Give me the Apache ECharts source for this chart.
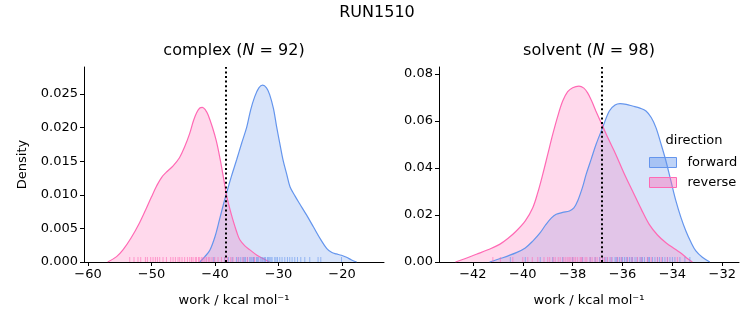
<!DOCTYPE html>
<html><head><meta charset="utf-8">
<script src="https://cdn.jsdelivr.net/npm/echarts@6/dist/echarts.min.js"></script>
<style>html,body{margin:0;padding:0;background:#fff}#c{width:753px;height:325px}</style>
</head><body><div id="c"></div>
<script>
// ---------- data ----------
const suptitle = 'RUN1510';
const panelNames = ['complex', 'solvent'];
const panelN = [92, 98];
const complexXTicks = [-60, -50, -40, -30, -20];
const complexYTicks = [0, 0.005, 0.010, 0.015, 0.020, 0.025];
const solventXTicks = [-42, -40, -38, -36, -34, -32];
const solventYTicks = [0, 0.02, 0.04, 0.06, 0.08];
const complexRef = -38.36;
const solventRef = -36.85;

// KDE curves: complex / reverse
const cRevX = [-56.9,-55.5,-54.5,-53.2,-51.9,-50.9,-50.0,-49.2,-48.4,-47.5,-46.6,-45.6,-44.8,-44.0,-43.4,-42.9,-42.4,-42.0,-41.5,-41.1,-40.4,-39.8,-39.2,-38.7,-38.2,-37.7,-37.2,-36.6,-36.1,-35.3,-34.5,-33.4,-32.4,-31.4];
const cRevY = [0,0.0008,0.0018,0.0036,0.0058,0.0078,0.0097,0.0113,0.0126,0.0135,0.0143,0.0155,0.0171,0.0191,0.0210,0.0222,0.0229,0.0230,0.0226,0.0219,0.0200,0.0180,0.0153,0.0127,0.0100,0.0080,0.0063,0.0045,0.0033,0.0024,0.0018,0.0010,0.0005,0];
// complex / forward
const cFwdX = [-42.4,-41.6,-40.8,-40.0,-39.3,-38.7,-38.2,-37.4,-36.6,-35.8,-35.0,-34.4,-33.75,-33.1,-32.5,-31.9,-31.4,-30.8,-30.3,-29.8,-29.3,-28.7,-28.2,-27.4,-26.7,-25.6,-24.5,-23.4,-22.4,-21.6,-20.9,-20.1,-19.3,-18.5,-17.7];
const cFwdY = [0,0.0008,0.0018,0.0038,0.0063,0.0085,0.0102,0.0128,0.0152,0.0177,0.0201,0.0226,0.0246,0.0259,0.0263,0.0259,0.0249,0.0228,0.0201,0.0176,0.0152,0.0130,0.0112,0.0098,0.0087,0.0070,0.0052,0.0034,0.0020,0.0014,0.0012,0.0010,0.0007,0.0003,0];
// solvent / reverse
const sRevX = [-42.7,-42.3,-41.86,-41.4,-40.93,-40.6,-40.26,-39.9,-39.6,-39.4,-39.2,-39.0,-38.8,-38.6,-38.4,-38.2,-38.0,-37.75,-37.55,-37.4,-37.25,-37.07,-36.8,-36.55,-36.27,-35.95,-35.6,-35.25,-34.93,-34.6,-34.26,-33.9,-33.6,-33.4,-33.2];
const sRevY = [0,0.0015,0.0033,0.0052,0.0075,0.0100,0.0132,0.0175,0.0231,0.0295,0.0373,0.0458,0.0543,0.0620,0.0685,0.0725,0.0742,0.0749,0.0740,0.0720,0.0688,0.0643,0.0579,0.0520,0.0458,0.0380,0.0302,0.0225,0.0160,0.0115,0.0082,0.0055,0.0033,0.0015,0];
// solvent / forward
const sFwdX = [-41.33,-40.8,-40.26,-39.9,-39.6,-39.3,-39.07,-38.85,-38.66,-38.4,-38.13,-37.95,-37.8,-37.6,-37.46,-37.25,-37.06,-36.8,-36.53,-36.3,-36.1,-35.85,-35.6,-35.3,-35.06,-34.85,-34.66,-34.45,-34.26,-34.06,-33.86,-33.66,-33.46,-33.26,-33.06,-32.8,-32.5];
const sFwdY = [0,0.0018,0.0040,0.0060,0.0089,0.0125,0.0160,0.0188,0.0203,0.0211,0.0217,0.0230,0.0260,0.0320,0.0373,0.0440,0.0501,0.0572,0.0643,0.0668,0.0674,0.0671,0.0664,0.0655,0.0643,0.0615,0.0572,0.0500,0.0430,0.0345,0.0260,0.0190,0.0132,0.0085,0.0047,0.0020,0];

// rug samples
const cRevRug = [-53.43,-52.76,-52.13,-51.70,-50.96,-50.65,-50.13,-49.76,-49.39,-49.07,-48.71,-48.19,-47.65,-46.98,-46.61,-46.24,-45.83,-45.56,-45.20,-44.78,-44.35,-43.98,-43.70,-43.46,-43.10,-42.93,-42.60,-42.41,-42.10,-41.89,-41.60,-41.35,-41.05,-40.83,-40.47,-40.05,-39.53,-38.99,-38.47,-38.05,-37.53,-37.17,-36.40,-35.60,-34.90,-33.80];
const cFwdRug = [-40.20,-38.50,-37.90,-37.30,-36.63,-36.27,-35.95,-35.59,-35.21,-34.90,-34.54,-34.17,-33.86,-33.48,-33.30,-33.12,-32.80,-32.60,-32.44,-32.20,-32.06,-31.75,-31.60,-31.39,-31.02,-30.60,-30.17,-29.81,-29.45,-29.02,-28.60,-28.24,-27.87,-27.45,-27.02,-26.50,-25.87,-25.09,-23.78,-23.35,-20.09,-33.95,-34.35,-31.20,-30.40,-35.40];
const sRevRug = [-41.2,-40.9,-40.4,-40.0,-39.8,-39.62,-39.4,-39.15,-39.0,-38.92,-38.78,-38.7,-38.58,-38.5,-38.38,-38.3,-38.22,-38.1,-38.02,-37.95,-37.88,-37.8,-37.7,-37.62,-37.5,-37.43,-37.3,-37.22,-37.1,-37.02,-36.9,-36.8,-36.72,-36.6,-36.45,-36.2,-36.05,-35.8,-35.62,-35.4,-35.25,-35.0,-34.85,-34.6,-34.45,-34.2,-37.66,-38.15,-33.8];
const sFwdRug = [-40.5,-39.9,-39.3,-38.8,-38.4,-38.0,-37.6,-37.3,-37.1,-36.92,-36.8,-36.7,-36.62,-36.5,-36.42,-36.3,-36.2,-36.12,-36.0,-35.92,-35.8,-35.72,-35.6,-35.5,-35.42,-35.3,-35.2,-35.12,-35.0,-34.92,-34.8,-34.7,-34.6,-34.52,-34.4,-34.3,-34.2,-34.1,-34.0,-33.9,-33.7,-33.5,-36.25,-36.05,-35.85,-35.25,-34.95,-35.65,-33.3];

// ---------- chart ----------
const FONT = 'DejaVu Sans';
const BLUE = '#6495ED', PINK = '#FF69B4';
const zip = (xs, ys) => xs.map((x, i) => [x, ys[i]]);
const rug = xs => xs.map(x => [x, 0]);
const minus = s => String(s).replace('-', '\u2212');

function xAxis(idx, min, max, ticks) {
  return {
    type: 'value', gridIndex: idx, min, max,
    name: 'work / kcal mol\u207B\u00B9', nameLocation: 'middle', nameGap: 32,
    nameTextStyle: {fontFamily: FONT, fontSize: 13, color: '#000'},
    axisLine: {show: true, onZero: false, lineStyle: {color: '#000', width: 1}},
    axisTick: {show: true, length: 4, customValues: ticks, lineStyle: {color: '#000'}},
    axisLabel: {customValues: ticks, margin: 6, fontFamily: FONT, fontSize: 13, color: '#000', formatter: v => minus(v)},
    splitLine: {show: false}
  };
}
function yAxis(idx, max, ticks, digits, name) {
  return {
    type: 'value', gridIndex: idx, min: 0, max,
    name: name || '', nameLocation: 'middle', nameGap: 55, nameRotate: 90,
    nameTextStyle: {fontFamily: FONT, fontSize: 13, color: '#000'},
    axisLine: {show: true, lineStyle: {color: '#000', width: 1}},
    axisTick: {show: true, length: 4, customValues: ticks, lineStyle: {color: '#000'}},
    axisLabel: {customValues: ticks, margin: 6, fontFamily: FONT, fontSize: 13, color: '#000', formatter: v => v.toFixed(digits)},
    splitLine: {show: false}
  };
}
function kde(name, color, idx, data, ref) {
  const s = {
    name, type: 'line', xAxisIndex: idx, yAxisIndex: idx, data,
    smooth: 0.35, showSymbol: false, symbol: 'none', silent: true,
    lineStyle: {color, width: 1.2}, itemStyle: {color},
    areaStyle: {color, opacity: 0.25}, z: 2
  };
  if (ref !== undefined) {
    s.markLine = {
      symbol: 'none', silent: true, label: {show: false}, animation: false,
      lineStyle: {color: '#000', type: [2, 2.6], width: 2},
      data: [{xAxis: ref}], z: 5
    };
  }
  return s;
}
function rugSeries(color, idx, data) {
  return {
    name: 'rug', type: 'scatter', xAxisIndex: idx, yAxisIndex: idx, data: rug(data),
    symbol: 'rect', symbolSize: [1, 5], symbolOffset: [0, -2.5], silent: true,
    itemStyle: {color, opacity: 0.6}, z: 3
  };
}
const titleRich = {
  n: {fontFamily: FONT, fontSize: 16, color: '#000'},
  i: {fontFamily: FONT, fontSize: 16, fontStyle: 'italic', color: '#000'}
};
function titleText(i) {
  return '{n|' + panelNames[i] + ' (}{i|N}{n| = ' + panelN[i] + ')}';
}

const chart = echarts.init(document.getElementById('c'), null, {renderer: 'canvas'});
chart.setOption({
  animation: false,
  backgroundColor: '#fff',
  grid: [
    {left: 84, top: 67, width: 300, height: 195},
    {left: 439, top: 67, width: 300, height: 195}
  ],
  xAxis: [xAxis(0, -60.63, -13.4, complexXTicks), xAxis(1, -43.36, -31.33, solventXTicks)],
  yAxis: [yAxis(0, 0.029, complexYTicks, 3, 'Density'), yAxis(1, 0.083, solventYTicks, 2)],
  legend: {
    orient: 'vertical', left: 649, top: 156, padding: 0, itemWidth: 27, itemHeight: 10, itemGap: 7,
    selectedMode: false,
    textStyle: {fontFamily: FONT, fontSize: 13, color: '#000', padding: [0, 0, 0, 6]},
    data: [
      {name: 'forward', icon: 'rect', itemStyle: {color: 'rgba(100,149,237,0.42)', borderColor: BLUE, borderWidth: 1}},
      {name: 'reverse', icon: 'rect', itemStyle: {color: 'rgba(255,105,180,0.42)', borderColor: PINK, borderWidth: 1}}
    ]
  },
  graphic: [
    {type: 'text', x: 377, y: 13, style: {text: suptitle, font: '16px "DejaVu Sans"', fill: '#000', align: 'center', verticalAlign: 'middle'}},
    {type: 'text', x: 234, y: 51, style: {text: titleText(0), rich: titleRich, align: 'center', verticalAlign: 'middle'}},
    {type: 'text', x: 589, y: 51, style: {text: titleText(1), rich: titleRich, align: 'center', verticalAlign: 'middle'}},
    {type: 'text', x: 694, y: 141, style: {text: 'direction', font: '13px "DejaVu Sans"', fill: '#000', align: 'center', verticalAlign: 'middle'}}
  ],
  series: [
    kde('forward', BLUE, 0, zip(cFwdX, cFwdY), complexRef),
    kde('reverse', PINK, 0, zip(cRevX, cRevY)),
    rugSeries(BLUE, 0, cFwdRug),
    rugSeries(PINK, 0, cRevRug),
    kde('forward', BLUE, 1, zip(sFwdX, sFwdY), solventRef),
    kde('reverse', PINK, 1, zip(sRevX, sRevY)),
    rugSeries(BLUE, 1, sFwdRug),
    rugSeries(PINK, 1, sRevRug)
  ]
});
</script>
</body></html>
